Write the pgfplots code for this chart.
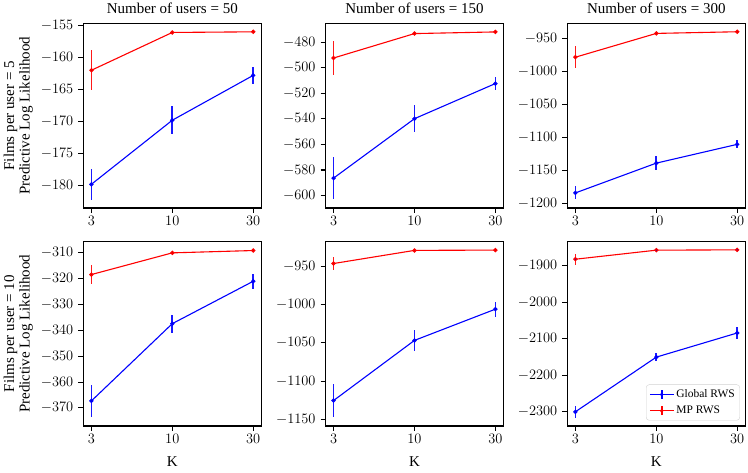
\documentclass[border=0pt]{standalone}
\usepackage{fontspec}
\setmainfont{Liberation Serif}
\usepackage{pgfplots}
\pgfplotsset{compat=1.18}
\pgfplotsset{
  panel/.style={
    scale only axis, width=178pt, height=184.5pt,
    xmin=-0.1, xmax=2.1, xtick={0,1,2}, xticklabels={$3$,$10$,$30$},
    tick align=outside, xtick pos=bottom, ytick pos=left,
    major tick length=5pt,
    every tick/.style={black, line width=1.1pt},
    axis line style={line width=1.1pt},
    ticklabel style={font=\fontsize{14}{14}\selectfont},
    yticklabel style={xshift=-1.5pt},
    /pgf/number format/1000 sep={},
    scaled y ticks=false,
    title style={font=\fontsize{15}{15}\selectfont, at={(0.5,1)}, anchor=base, yshift=4pt},
    xlabel style={font=\fontsize{15}{15}\selectfont, at={(axis description cs:0.5,0)}, anchor=base, yshift=-40.7pt},
    ylabel style={align=center, font=\fontsize{15}{15.5}\selectfont, at={(axis description cs:-0.365,0.5)}, anchor=center},
    legend image code/.code={
      \draw[line width=1.1pt] (0pt,0pt) -- (24pt,0pt);
      \draw[line width=1.5pt] (12pt,-4.5pt) -- (12pt,4.5pt);
      \fill (12pt,0pt) circle (1.6pt);
    },
  },
  gl/.style={blue, line width=1.1pt, mark=*, mark size=1.6pt,
    error bars/y dir=both, error bars/y explicit, error bars/error mark=none,
    error bars/error bar style={line width=1.7pt, blue!90}},
  mp/.style={red, line width=1.1pt, mark=*, mark size=1.6pt,
    error bars/y dir=both, error bars/y explicit, error bars/error mark=none,
    error bars/error bar style={line width=1.7pt, red!90}},
}
\begin{document}
\begin{tikzpicture}[x=1pt,y=1pt]
\useasboundingbox (0,0) rectangle (748,473);
% ---------- top left
\begin{axis}[panel, at={(83.3pt,265pt)}, anchor=south west,
  ymin=-183.5, ymax=-154.7, ytick={-180,-175,-170,-165,-160,-155},
  title={Number of users = 50},
  ylabel={Films per user = 5\\Predictive Log Likelihood}]
\addplot+[gl] coordinates {(0,-179.8) +- (0,2.45) (1,-169.8) +- (0,2.15) (2,-162.8) +- (0,1.35)};
\addplot+[mp] coordinates {(0,-162.0) +- (0,3.1) (1,-156.1) +- (0,0.25) (2,-156.0) +- (0,0.25)};
\end{axis}
% ---------- top middle
\begin{axis}[panel, at={(325.5pt,265pt)}, anchor=south west,
  ymin=-609.7, ymax=-465.3, ytick={-600,-580,-560,-540,-520,-500,-480},
  title={Number of users = 150}]
\addplot+[gl] coordinates {(0,-586.3) +- (0,16.6) (1,-539.8) +- (0,10.6) (2,-512.3) +- (0,5.2)};
\addplot+[mp] coordinates {(0,-492.3) +- (0,13.3) (1,-473.2) +- (0,0.8) (2,-471.9) +- (0,0.8)};
\end{axis}
% ---------- top right
\begin{axis}[panel, at={(567.3pt,265pt)}, anchor=south west,
  ymin=-1207.1, ymax=-927.9, ytick={-1200,-1150,-1100,-1050,-1000,-950},
  title={Number of users = 300}]
\addplot+[gl] coordinates {(0,-1184.3) +- (0,9.9) (1,-1139.2) +- (0,10.1) (2,-1110.8) +- (0,6.1)};
\addplot+[mp] coordinates {(0,-978.9) +- (0,16.4) (1,-942.9) +- (0,1.2) (2,-940.4) +- (0,1.2)};
\end{axis}
% ---------- bottom left
\begin{axis}[panel, at={(83.3pt,47pt)}, anchor=south west,
  ymin=-377, ymax=-305.6, ytick={-370,-360,-350,-340,-330,-320,-310},
  xlabel={K},
  ylabel={Films per user = 10\\Predictive Log Likelihood}]
\addplot+[gl] coordinates {(0,-367.3) +- (0,6.3) (1,-337.4) +- (0,3.5) (2,-321.0) +- (0,2.8)};
\addplot+[mp] coordinates {(0,-318.4) +- (0,3.6) (1,-310.0) +- (0,0.35) (2,-309.1) +- (0,0.35)};
\end{axis}
% ---------- bottom middle
\begin{axis}[panel, at={(325.5pt,47pt)}, anchor=south west,
  ymin=-1158.3, ymax=-917.8, ytick={-1150,-1100,-1050,-1000,-950},
  xlabel={K}]
\addplot+[gl] coordinates {(0,-1125.1) +- (0,22.1) (1,-1046.7) +- (0,13.5) (2,-1006.0) +- (0,9.9)};
\addplot+[mp] coordinates {(0,-946.5) +- (0,8.8) (1,-929.4) +- (0,0.9) (2,-929.0) +- (0,0.9)};
\end{axis}
% ---------- bottom right
\begin{axis}[panel, at={(567.3pt,47pt)}, anchor=south west,
  ymin=-2339, ymax=-1833, ytick={-2300,-2200,-2100,-2000,-1900},
  xlabel={K},
  legend style={at={(0.97,0.03)}, anchor=south east, draw=black!18, rounded corners=3pt,
    fill=white, font=\fontsize{11.5}{13}\selectfont, row sep=3pt, inner sep=3pt,
    cells={anchor=west}}]
\addplot+[forget plot, gl] coordinates {(0,-2300.0) +- (0,16.6) (1,-2150.1) +- (0,11.5) (2,-2083.9) +- (0,15.6)};
\addplot+[forget plot, mp] coordinates {(0,-1881.6) +- (0,15.2) (1,-1856.8) +- (0,1.8) (2,-1855.9) +- (0,1.8)};
\addlegendimage{blue}
\addlegendentry{Global RWS}
\addlegendimage{red}
\addlegendentry{MP RWS}
\end{axis}
\end{tikzpicture}
\end{document}
